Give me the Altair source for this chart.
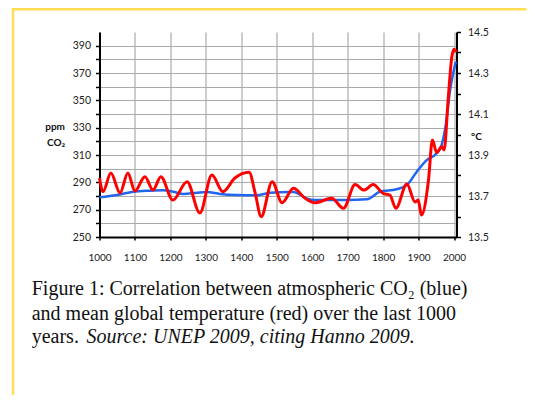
import altair as alt
import pandas as pd

# CO2 concentration (ppm, left axis)
co2_years = [1000, 1049, 1095, 1142, 1180, 1208, 1236, 1274, 1302, 1340, 1387, 1443,
             1481, 1537, 1547, 1584, 1603, 1697, 1754, 1791, 1838, 1867, 1895, 1923,
             1951, 1965, 1975, 1989, 2005]
co2_ppm = [279.0, 280.7, 283.1, 283.9, 284.2, 283.1, 281.5, 282.4, 283.0, 281.5, 280.7, 280.5,
           282.4, 283.0, 283.0, 278.3, 277.1, 277.0, 277.6, 283.1, 284.9, 288.0, 297.8, 306.3,
           311.2, 317.3, 329.0, 357.6, 378.3]

# Mean global temperature (deg C, right axis)
temp_years = [1000, 1010, 1032, 1058, 1080, 1100, 1128, 1151, 1173, 1207, 1247, 1283,
              1317, 1348, 1382, 1422, 1439, 1456, 1487, 1515, 1547, 1580, 1608, 1655,
              1688, 1721, 1746, 1772, 1800, 1819, 1836, 1867, 1890, 1899, 1908, 1928,
              1939, 1951, 1965, 1972, 1984, 1994, 2000, 2006]
temp_c = [13.788, 13.721, 13.812, 13.715, 13.812, 13.724, 13.794, 13.729, 13.794, 13.680, 13.770, 13.617,
          13.802, 13.721, 13.788, 13.816, 13.715, 13.599, 13.770, 13.667, 13.738, 13.689, 13.667, 13.689,
          13.640, 13.756, 13.729, 13.756, 13.713, 13.705, 13.640, 13.759, 13.671, 13.680, 13.607, 13.778,
          13.973, 13.912, 13.940, 13.924, 14.184, 14.380, 14.416, 14.402]

x_ticks = list(range(1000, 2001, 100))
ppm_ticks = list(range(250, 391, 10))
temp_ticks = [round(13.5 + 0.1 * i, 1) for i in range(11)]

caption_1 = "Figure 1: Correlation between atmospheric CO\u2082 (blue)"
caption_2 = "and mean global temperature (red) over the last 1000"
caption_3a = "years."
caption_3b = "Source: UNEP 2009, citing Hanno 2009."

W, H = 357, 205
PAD = {"left": 91.5, "top": 24, "right": 70, "bottom": 158}

co2_df = pd.DataFrame({"year": co2_years, "ppm": co2_ppm})
temp_df = pd.DataFrame({"year": temp_years, "temp": temp_c})
one = pd.DataFrame({"k": [0]})

x_enc = alt.X("year:Q", scale=alt.Scale(domain=[1000, 2007], nice=False, zero=False),
              axis=alt.Axis(values=x_ticks, format="d", title=None, grid=True,
                            gridColor="#999999", gridWidth=1, domainColor="#000000",
                            domainWidth=2, tickColor="#000000", tickSize=3, tickWidth=1.5,
                            labelFont="Lato", labelFontSize=10, labelColor="#222222",
                            labelPadding=12, labelOverlap=False, labelFlush=False))

blue = alt.Chart(co2_df).mark_line(color="#2266EE", strokeWidth=2.5, interpolate="monotone").encode(
    x=x_enc,
    y=alt.Y("ppm:Q", scale=alt.Scale(domain=[250, 400], nice=False, zero=False),
            axis=alt.Axis(orient="left", values=ppm_ticks, title=None, grid=True,
                          gridColor="#AAAAAA", gridWidth=1, labelOverlap=False,
                          labelExpr="datum.value % 20 == 10 ? datum.label : ''",
                          domainColor="#000000", domainWidth=2, tickColor="#000000",
                          tickSize=4, tickWidth=1.5, labelFont="Lato", labelFontSize=10.5,
                          labelColor="#222222", labelPadding=5)),
)

red = alt.Chart(temp_df).mark_line(color="#FF0000", strokeWidth=3, interpolate="monotone").encode(
    x=x_enc,
    y=alt.Y("temp:Q", scale=alt.Scale(domain=[13.5, 14.5], nice=False, zero=False),
            axis=alt.Axis(orient="right", values=temp_ticks, title=None, grid=False,
                          format=".1f", labelOverlap=False,
                          labelExpr="round(datum.value * 10) % 2 == 1 ? datum.label : ''",
                          domainColor="#000000", domainWidth=2, tickColor="#000000",
                          tickSize=4, tickWidth=1.5, labelFont="Lato", labelFontSize=10.5,
                          labelColor="#222222", labelPadding=7)),
)

def txt(s, x, y, **kw):
    return alt.Chart(one).mark_text(text=s, **kw).encode(x=alt.value(x), y=alt.value(y))

ppm_lbl = txt("ppm", -34.5, 95, align="right", baseline="middle", font="Lato",
              fontSize=10, fontWeight="bold", color="#111111")
co2_lbl = txt("CO\u2082", -34.5, 111, align="right", baseline="middle", font="Lato",
              fontSize=10, fontWeight="bold", color="#111111")
deg_lbl = txt("\u00b0C", 377, 105, align="center", baseline="middle", font="Lato",
              fontSize=10, fontWeight="bold", color="#111111")

serif = dict(align="left", baseline="alphabetic", font="Liberation Serif", fontSize=20,
             color="#111111")
cap1 = txt(caption_1, -67.8, 263, **serif)
cap2 = txt(caption_2, -67.8, 288, **serif)
cap3a = txt(caption_3a, -67.8, 311.3, **serif)
cap3b = txt(caption_3b, -13, 311.3, fontStyle="italic", **serif)

border_v = alt.Chart(one).mark_rule(color="#FFDD55", strokeWidth=2.5).encode(
    x=alt.value(-86.5), y=alt.value(-24), y2=alt.value(H + PAD["bottom"]))
border_h = alt.Chart(one).mark_rule(color="#FFDD55", strokeWidth=2.5).encode(
    x=alt.value(-87.7), x2=alt.value(W + PAD["right"]), y=alt.value(-22.8))

chart = alt.layer(
    blue, red, ppm_lbl, co2_lbl, deg_lbl, cap1, cap2, cap3a, cap3b, border_v, border_h
).resolve_scale(y="independent").properties(
    width=W, height=H, padding=PAD, autosize=alt.AutoSizeParams(type="none"),
    background="#FFFFFF"
).configure_view(stroke=None)

chart.save("out.html", embed_options={"renderer": "svg", "actions": False})
